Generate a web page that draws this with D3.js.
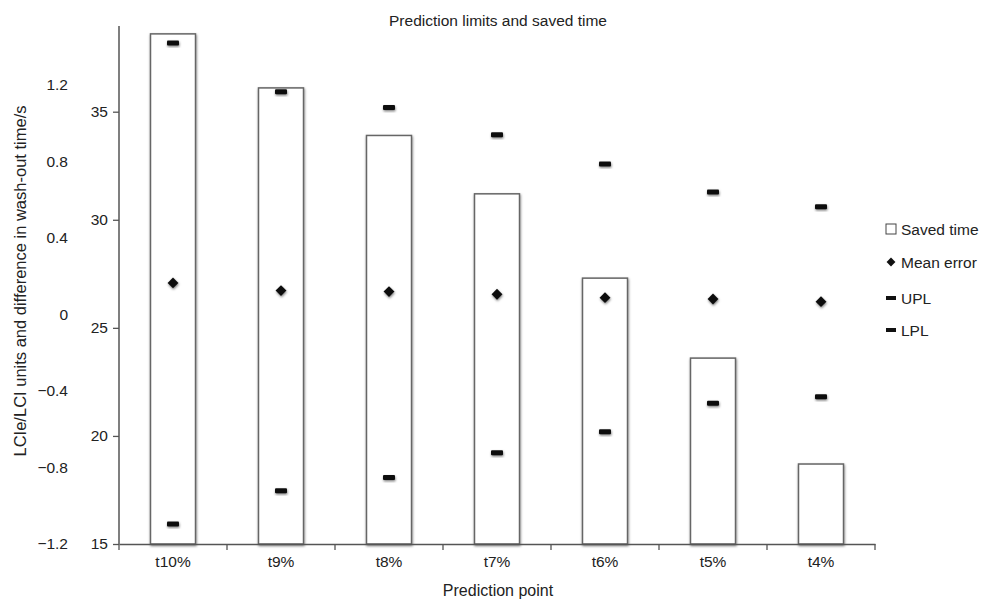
<!DOCTYPE html>
<html lang="en">
<head>
    <meta charset="UTF-8">
    <title>Prediction limits and saved time</title>
    <script src="https://d3js.org/d3.v7.min.js"></script>
<style>
    body { margin: 0; background: #fff; }
    text { font-family: "Liberation Sans", Arial, sans-serif; fill: #222; }
</style>
</head>
<body>
</body>
<script>

// data
const points = ['t10%', 't9%', 't8%', 't7%', 't6%', 't5%', 't4%'];
const savedTime = [38.6, 36.1, 33.9, 31.2, 27.3, 23.6, 18.7];    // s, inner axis
const meanError = [0.165, 0.125, 0.12, 0.106, 0.088, 0.081, 0.067];
const upl = [1.42, 1.165, 1.083, 0.94, 0.787, 0.641, 0.564];
const lpl = [-1.095, -0.922, -0.852, -0.723, -0.613, -0.464, -0.43];
const timeTicks = [15, 20, 25, 30, 35];
const lciTicks = [-1.2, -0.8, -0.4, 0, 0.4, 0.8, 1.2];

const W = 982, H = 601;
const mLeft = 119, mRight = 875, mTop = 26, mBottom = 544;
const tickFont = '15.5px';

const svg = d3.select('body').append('svg')
    .attr('width', W).attr('height', H);

// soft shadow like the original figure
const defs = svg.append('defs');
const f = defs.append('filter').attr('id', 'sh')
    .attr('x', '-50%').attr('y', '-50%').attr('width', '200%').attr('height', '200%');
f.append('feDropShadow').attr('dx', 0.5).attr('dy', 1.4).attr('stdDeviation', 1)
    .attr('flood-color', '#000').attr('flood-opacity', 0.5);

const xTick = d3.scaleBand().domain(points).range([mLeft, mRight]);
const yTime = d3.scaleLinear().domain([15, 35]).range([mBottom, 111.7]);
const yLci = d3.scaleLinear().domain([-1.2, 1.2]).range([mBottom, 85]);
const cx = i => xTick(points[i]) + xTick.bandwidth() / 2;

// bars: saved time
svg.append('g').selectAll('rect')
    .data(savedTime)
    .enter()
    .append('rect')
    .attr('x', (d, i) => cx(i) - 22.5)
    .attr('width', 45)
    .attr('y', d => yTime(d))
    .attr('height', d => mBottom - yTime(d))
    .style('fill', '#fff')
    .style('stroke', '#666')
    .style('stroke-width', '1.5px')
    .attr('filter', 'url(#sh)');

// inner axis (saved time)
const timeAxis = svg.append('g')
    .attr('transform', `translate(${mLeft},0)`)
    .call(d3.axisLeft(yTime).tickValues(timeTicks).tickSize(6).tickSizeOuter(0).tickPadding(5));
timeAxis.select('.domain').remove();
svg.append('line')
    .attr('x1', mLeft).attr('x2', mLeft).attr('y1', mTop).attr('y2', mBottom)
    .style('stroke', '#555').style('stroke-width', '1.5px');
timeAxis.selectAll('.tick line').style('stroke', '#555').style('stroke-width', '1.3px');
timeAxis.selectAll('.tick text').style('font-size', tickFont).style('font-family', '"Liberation Sans", Arial, sans-serif').attr('fill', '#222');

// outer axis (LCI units), labels only
const lciAxis = svg.append('g')
    .attr('transform', 'translate(68,0)')
    .call(d3.axisLeft(yLci).tickValues(lciTicks).tickSize(0).tickPadding(0)
        .tickFormat(d => d === 0 ? '0' : d3.format('.1f')(d).replace('-', '\u2212')));
lciAxis.select('.domain').remove();
lciAxis.selectAll('.tick text').style('font-size', tickFont).style('font-family', '"Liberation Sans", Arial, sans-serif').attr('fill', '#222');

// x axis
const xAxis = svg.append('g')
    .attr('transform', `translate(0,${mBottom})`)
    .call(d3.axisBottom(xTick).tickSize(0).tickPadding(12));
xAxis.select('.domain').style('stroke', '#555').style('stroke-width', '1.5px');
xAxis.selectAll('.tick text').style('font-size', tickFont).style('font-family', '"Liberation Sans", Arial, sans-serif').attr('fill', '#222');
svg.append('g').selectAll('line')
    .data(points.concat(['end']))
    .enter()
    .append('line')
    .attr('x1', (d, i) => i < points.length ? xTick(d) : mRight)
    .attr('x2', (d, i) => i < points.length ? xTick(d) : mRight)
    .attr('y1', mBottom).attr('y2', mBottom + 6)
    .style('stroke', '#555').style('stroke-width', '1.3px');

// limit dashes
[upl, lpl].forEach(arr => {
    svg.append('g').selectAll('rect')
        .data(arr)
        .enter()
        .append('rect')
        .attr('x', (d, i) => cx(i) - 6)
        .attr('y', d => yLci(d) - 2.5)
        .attr('width', 12).attr('height', 5).attr('rx', 1)
        .style('fill', '#111')
        .attr('filter', 'url(#sh)');
});

// mean error diamonds
svg.append('g').selectAll('path')
    .data(meanError)
    .enter()
    .append('path')
    .attr('d', d3.symbol().type(d3.symbolDiamond2).size(75))
    .attr('transform', (d, i) => `translate(${cx(i)},${yLci(d)})`)
    .style('fill', '#111')
    .attr('filter', 'url(#sh)');

// titles
svg.append('text').attr('x', 498).attr('y', 26).attr('text-anchor', 'middle')
    .style('font-size', '15.5px').text('Prediction limits and saved time');
svg.append('text').attr('x', 498).attr('y', 596).attr('text-anchor', 'middle')
    .style('font-size', '16px').text('Prediction point');
svg.append('text')
    .attr('transform', 'translate(26,281) rotate(-90)')
    .attr('text-anchor', 'middle')
    .style('font-size', '16.5px')
    .text('LCIe/LCI units and difference in wash-out time/s');

// legend
const legend = svg.append('g').attr('transform', 'translate(886,0)');
const legY = [229, 262, 298, 330];
const legLabels = ['Saved time', 'Mean error', 'UPL', 'LPL'];
legend.selectAll('text')
    .data(legLabels)
    .enter()
    .append('text')
    .attr('x', 15).attr('y', (d, i) => legY[i] + 5.5)
    .style('font-size', tickFont)
    .text(d => d);
legend.append('rect').attr('x', 0).attr('y', legY[0] - 5).attr('width', 10).attr('height', 10)
    .style('fill', '#fff').style('stroke', '#444').style('stroke-width', '1px');
legend.append('path').attr('d', d3.symbol().type(d3.symbolDiamond2).size(50))
    .attr('transform', `translate(5,${legY[1]})`).style('fill', '#111');
[2, 3].forEach(k => {
    legend.append('rect').attr('x', 0).attr('y', legY[k] - 2).attr('width', 10).attr('height', 4)
        .style('fill', '#111');
});

</script>
</html>
